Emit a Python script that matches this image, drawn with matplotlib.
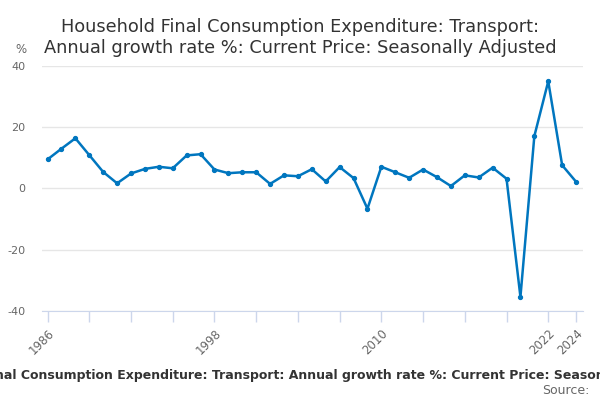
"""Household final consumption expenditure on transport, annual growth rate."""

import matplotlib

matplotlib.use("Agg")
import matplotlib.pyplot as plt

years = list(range(1986, 2025))
growth = [
    9.5, 13.0, 16.4, 10.9, 5.4, 1.7, 4.9, 6.4, 7.1, 6.6,
    10.8, 11.2, 6.2, 5.0, 5.3, 5.3, 1.5, 4.3, 4.0, 6.3,
    2.3, 7.0, 3.4, -6.6, 7.1, 5.3, 3.5, 6.2, 3.7, 0.8,
    4.3, 3.6, 6.8, 3.2, -35.4, 17.1, 35.0, 7.6, 2.2,
]
tick_years = list(range(1986, 2023, 3)) + [2024]
labelled_years = [1986, 1998, 2010, 2022, 2024]
y_ticks = [-40, -20, 0, 20, 40]

title = ("Household Final Consumption Expenditure: Transport:\n"
         "Annual growth rate %: Current Price: Seasonally Adjusted")
caption = ("Household Final Consumption Expenditure: Transport: Annual growth rate %: "
           "Current Price: Seasonally Adjusted")

line_colour = "#0076bf"
text_colour = "#333333"
tick_colour = "#666666"
axis_colour = "#ccd6eb"
grid_colour = "#e6e6e6"

fig = plt.figure(figsize=(6, 4), dpi=100)
ax = fig.add_axes([0.07, 0.2225, 0.9017, 0.6125])

ax.plot(years, growth, color=line_colour, linewidth=1.8, marker="o", markersize=2.8)

ax.set_xlim(1985.6, 2024.5)
ax.set_ylim(-40, 40)
ax.set_yticks(y_ticks)
ax.set_yticklabels([str(v) for v in y_ticks])
ax.yaxis.grid(True, color=grid_colour, linewidth=1)
ax.set_axisbelow(True)

ax.set_xticks(tick_years)
ax.set_xticklabels([str(y) if y in labelled_years else "" for y in tick_years],
                   rotation=45, ha="right", rotation_mode="anchor")

for side in ("top", "right", "left"):
    ax.spines[side].set_visible(False)
ax.spines["bottom"].set_color(axis_colour)

ax.tick_params(axis="y", length=0, labelsize=8, colors=tick_colour, pad=12)
ax.tick_params(axis="x", length=8, width=1, color=axis_colour,
               labelsize=8.5, labelcolor=tick_colour)

# the long caption overflows the figure in the original, so it is left clipped
fig.text(0.5, 0.062, caption, ha="center", va="center", fontsize=9,
         fontweight="bold", color=text_colour)
fig.text(0.5, 0.955, title, ha="center", va="top", fontsize=12.8,
         color=text_colour, linespacing=1.2)
fig.text(0.025, 0.86, "%", ha="left", va="bottom", fontsize=8.5, color=tick_colour)
fig.text(0.982, 0.025, "Source:", ha="right", va="center", fontsize=9, color=tick_colour)

fig.savefig("out.png", dpi=100)
